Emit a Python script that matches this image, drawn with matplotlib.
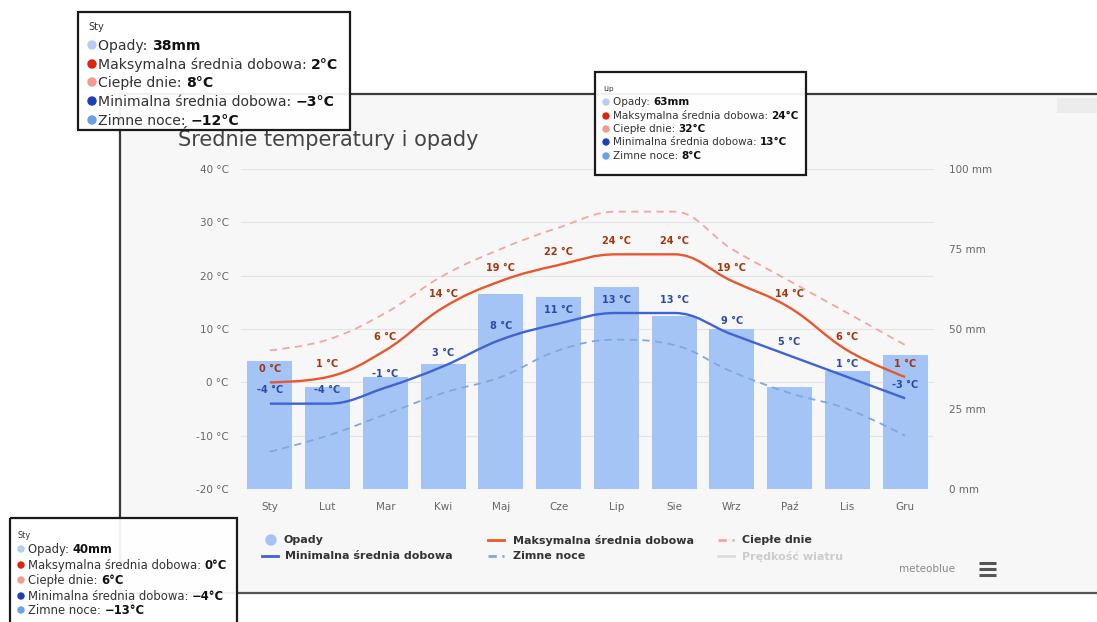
import numpy as np
import matplotlib
matplotlib.use('Agg')
import matplotlib.pyplot as plt
from matplotlib.path import Path
from matplotlib.patches import PathPatch, Rectangle, Circle

plt.rcParams['font.family'] = ['DejaVu Sans']

# ── dane ────────────────────────────────────────────────────────────────
miesiace = ['Sty', 'Lut', 'Mar', 'Kwi', 'Maj', 'Cze', 'Lip', 'Sie', 'Wrz', 'Paź', 'Lis', 'Gru']
opady = [40, 32, 35, 39, 61, 60, 63, 54, 50, 32, 37, 42]
t_max = [0, 1, 6, 14, 19, 22, 24, 24, 19, 14, 6, 1]
t_min = [-4, -4, -1, 3, 8, 11, 13, 13, 9, 5, 1, -3]
cieple_dnie = [6, 8, 13, 20, 25, 29, 32, 32, 25, 19, 13, 7]
zimne_noce = [-13, -10, -6, -2, 1, 6, 8, 7, 2, -2, -5, -10]

temp_ticks = [-20, -10, 0, 10, 20, 30, 40]
opady_ticks = [0, 25, 50, 75, 100]

# tooltipy (nakładki ze zrzutu ekranu)
tip_gora = ('Sty', ['38mm', '2°C', '8°C', '−3°C', '−12°C'])
tip_lip = ('Lip', ['63mm', '24°C', '32°C', '13°C', '8°C'])
tip_dol = ('Sty', ['40mm', '0°C', '6°C', '−4°C', '−13°C'])
tip_nazwy = ['Opady: ', 'Maksymalna średnia dobowa: ', 'Ciepłe dnie: ',
             'Minimalna średnia dobowa: ', 'Zimne noce: ']
tip_kolory = ['#b4cdf2', '#e0250f', '#f59a8c', '#1d3fbf', '#6aa2ea']

# ── kolory ──────────────────────────────────────────────────────────────
C_BAR = '#a3c4f5'
C_MAX = '#e8572f'
C_MIN = '#3f63d2'
C_WARM = '#f3a69c'
C_COLD = '#7ea8e2'
C_MAX_LBL = '#a3350f'
C_MIN_LBL = '#2b4aa6'
C_PANEL = '#f7f7f7'

W, H = 1097, 622


def spline_path(xs, ys, smoothing=1.5):
    # krzywa typu "spline" jak w Highcharts (krzywe Beziera przez punkty)
    n = len(xs)
    left = [(xs[i], ys[i]) for i in range(n)]
    right = [(xs[i], ys[i]) for i in range(n)]
    d = smoothing + 1
    for i in range(1, n - 1):
        x, y = xs[i], ys[i]
        lx, ly = xs[i - 1], ys[i - 1]
        nx, ny = xs[i + 1], ys[i + 1]
        lcx = (smoothing * x + lx) / d
        lcy = (smoothing * y + ly) / d
        rcx = (smoothing * x + nx) / d
        rcy = (smoothing * y + ny) / d
        corr = ((rcy - lcy) * (rcx - x)) / (rcx - lcx) + y - rcy
        lcy += corr
        rcy += corr
        if lcy > ly and lcy > y:
            lcy = max(ly, y); rcy = 2 * y - lcy
        elif lcy < ly and lcy < y:
            lcy = min(ly, y); rcy = 2 * y - lcy
        if rcy > ny and rcy > y:
            rcy = max(ny, y); lcy = 2 * y - rcy
        elif rcy < ny and rcy < y:
            rcy = min(ny, y); lcy = 2 * y - rcy
        left[i] = (lcx, lcy)
        right[i] = (rcx, rcy)
    verts = [(xs[0], ys[0])]
    codes = [Path.MOVETO]
    for i in range(1, n):
        verts += [right[i - 1], left[i], (xs[i], ys[i])]
        codes += [Path.CURVE4] * 3
    return Path(verts, codes)


fig = plt.figure(figsize=(W / 100, H / 100), dpi=100)
fig.patch.set_facecolor('white')

# tło panelu (współrzędne pikselowe)
bg = fig.add_axes([0, 0, 1, 1], zorder=0)
bg.set_xlim(0, W)
bg.set_ylim(H, 0)
bg.axis('off')
bg.add_patch(Rectangle((120, 94), W - 120, 593 - 94, facecolor=C_PANEL, edgecolor='none'))
bg.add_patch(Rectangle((1057, 98), 40, 15, facecolor='#ececec', edgecolor='none'))
bg.plot([120, W], [94, 94], color='#3a3a3a', lw=1.6)
bg.plot([120, 120], [94, 593], color='#3a3a3a', lw=1.6)
bg.plot([120, W], [593, 593], color='#555555', lw=1.6)

# ── wykres ──────────────────────────────────────────────────────────────
ax = fig.add_axes([241 / W, 1 - 489 / H, (934 - 241) / W, (489 - 169) / H])
ax2 = ax.twinx()
ax.set_zorder(2)
ax2.set_zorder(1)
ax.patch.set_visible(False)
ax2.patch.set_visible(False)

x = np.arange(len(miesiace))
ax2.bar(x, opady, width=0.78, color=C_BAR, zorder=1)
ax2.set_ylim(0, 100)
ax2.set_yticks(opady_ticks)
ax2.set_yticklabels([f'{v} mm' for v in opady_ticks])
ax2.tick_params(axis='y', length=0, pad=11, labelsize=7.5, labelcolor='#666666')

ax.set_xlim(-0.5, len(miesiace) - 0.5)
ax.set_ylim(-20, 40)
ax.set_yticks(temp_ticks)
ax.set_yticklabels([f'{v} °C' for v in temp_ticks])
ax.tick_params(axis='y', length=0, pad=9, labelsize=7.5, labelcolor='#666666')
ax.set_xticks(x)
ax.set_xticklabels(miesiace)
ax.tick_params(axis='x', length=0, pad=9, labelsize=7.5, labelcolor='#666666')
for a in (ax, ax2):
    for s in a.spines.values():
        s.set_visible(False)
for t in temp_ticks:
    ax2.axhline((t + 20) / 60 * 100, color='#e4e4e4', lw=0.8, zorder=0)

serie = [
    (cieple_dnie, C_WARM, (0, (4, 3)), 1.3),
    (zimne_noce, C_COLD, (0, (4, 3)), 1.3),
    (t_max, C_MAX, '-', 1.7),
    (t_min, C_MIN, '-', 1.7),
]
for vals, col, ls, lw in serie:
    ax.add_patch(PathPatch(spline_path(list(x), vals), facecolor='none',
                           edgecolor=col, lw=lw, linestyle=ls, zorder=3))

for i, v in enumerate(t_max):
    ax.annotate(f'{v} °C', (i, v), xytext=(0, 9.5), textcoords='offset points',
                ha='center', va='center', fontsize=7, fontweight='bold',
                color=C_MAX_LBL, zorder=5)
for i, v in enumerate(t_min):
    ax.annotate(f'{v} °C', (i, v), xytext=(0, 9.5), textcoords='offset points',
                ha='center', va='center', fontsize=7, fontweight='bold',
                color=C_MIN_LBL, zorder=5)

# ── nakładka: tytuł, legenda, tooltipy ──────────────────────────────────
ov = fig.add_axes([0, 0, 1, 1], zorder=10)
ov.set_xlim(0, W)
ov.set_ylim(H, 0)
ov.axis('off')
ov.patch.set_visible(False)

ov.text(178, 138, 'Średnie temperatury i opady', fontsize=15, color='#444444',
        va='center', ha='left')

# legenda
leg_txt = dict(fontsize=8, fontweight='bold', color='#333333', va='center', ha='left')
ov.add_patch(Circle((271, 540), 5, color=C_BAR))
ov.text(284, 540, 'Opady', **leg_txt)
ov.plot([262, 278], [556, 556], color=C_MIN, lw=2)
ov.text(285, 556, 'Minimalna średnia dobowa', **leg_txt)
ov.plot([488, 504], [540, 540], color=C_MAX, lw=2)
ov.text(513, 540, 'Maksymalna średnia dobowa', **leg_txt)
ov.plot([488, 504], [556, 556], color=C_COLD, lw=2, linestyle=(0, (3, 2)))
ov.text(513, 556, 'Zimne noce', **leg_txt)
ov.plot([718, 734], [540, 540], color=C_WARM, lw=2, linestyle=(0, (3, 2)))
ov.text(742, 540, 'Ciepłe dnie', **leg_txt)
ov.plot([718, 734], [556, 556], color='#dddddd', lw=2)
ov.text(742, 556, 'Prędkość wiatru', fontsize=8, fontweight='bold', color='#cccccc',
        va='center', ha='left')
ov.text(955, 569, 'meteoblue', fontsize=7.5, color='#888888', va='center', ha='right')
for yy in (563, 569, 575):
    ov.plot([979, 996], [yy, yy], color='#555555', lw=2.2, solid_capstyle='butt')

renderer = fig.canvas.get_renderer()


def tooltip(box, head, vals, x_txt, y_head, y_rows, fs, r):
    x0, y0, x1, y1 = box
    ov.add_patch(Rectangle((x0, y0), x1 - x0, y1 - y0, facecolor='white', alpha=0.93,
                           edgecolor='none', zorder=1))
    ov.add_patch(Rectangle((x0, y0), x1 - x0, y1 - y0, facecolor='none',
                           edgecolor='#1a1a1a', lw=1.6, zorder=4))
    ov.text(x_txt - 10, y_head, head, fontsize=fs * 0.7, color='#333333',
            va='center', ha='left', zorder=3)
    for nazwa, val, col, yy in zip(tip_nazwy, vals, tip_kolory, y_rows):
        ov.add_patch(Circle((x_txt - 10 + r, yy), r, color=col, zorder=3))
        t1 = ov.text(x_txt, yy + fs * 0.45, nazwa, fontsize=fs, color='#333333',
                     va='baseline', ha='left', zorder=3)
        wdt = t1.get_window_extent(renderer).width
        ov.text(x_txt + wdt, yy + fs * 0.45, val, fontsize=fs, fontweight='bold',
                color='#111111', va='baseline', ha='left', zorder=3)


tooltip((78, 12, 350, 130), tip_gora[0], tip_gora[1], 98, 27,
        [45, 64, 82, 101, 120], 10.1, 4)
tooltip((595, 72, 806, 175), tip_lip[0], tip_lip[1], 613, 89,
        [102, 116, 129, 142, 156], 7.5, 3)
tooltip((10, 518, 237, 640), tip_dol[0], tip_dol[1], 28, 535,
        [549, 565, 580, 596, 610], 8.4, 3)

fig.savefig('out.png', dpi=100, facecolor=fig.get_facecolor())
